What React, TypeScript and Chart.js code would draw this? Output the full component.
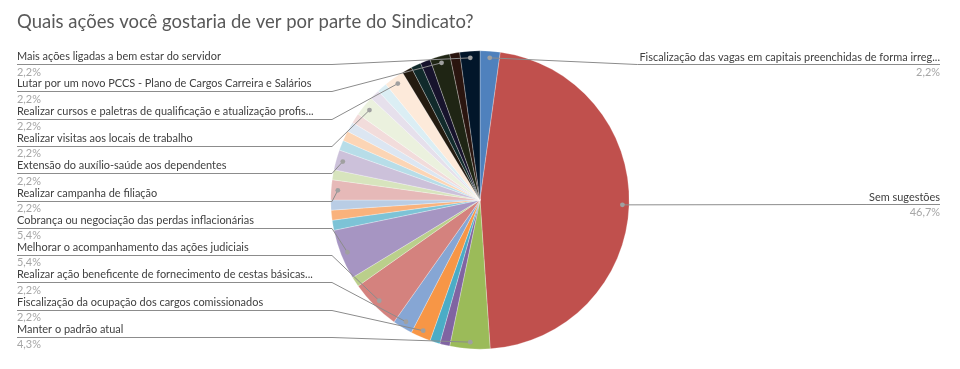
import React, { useEffect, useRef } from "react";
import { Chart, registerables } from "chart.js";

Chart.register(...registerables);

const chartTitle = "Quais ações você gostaria de ver por parte do Sindicato?";

const categories: string[] = [
  "Fiscalização das vagas em capitais preenchidas de forma irreg...",
  "Sem sugestões",
  "Manter o padrão atual",
  "",
  "",
  "Fiscalização da ocupação dos cargos comissionados",
  "Realizar ação beneficente de fornecimento de cestas básicas...",
  "Melhorar o acompanhamento das ações judiciais",
  "",
  "Cobrança ou negociação das perdas inflacionárias",
  "",
  "",
  "",
  "Realizar campanha de filiação",
  "",
  "Extensão do auxílio-saúde aos dependentes",
  "",
  "",
  "",
  "",
  "Realizar visitas aos locais de trabalho",
  "",
  "",
  "Realizar cursos e paletras de qualificação e atualização profis...",
  "",
  "",
  "",
  "Lutar por um novo PCCS - Plano de Cargos Carreira e Salários",
  "",
  "Mais ações ligadas a bem estar do servidor",
];

const counts: number[] = [
  2, 43, 4, 1, 1, 2, 2, 5, 1, 5, 1, 1, 1, 2, 1, 2, 1, 1, 1, 1, 2, 1, 1, 2, 1, 1, 1, 2, 1, 2,
];

const sliceColors: string[] = [
  "#4F81BD", "#C0504D", "#9BBB59", "#8064A2", "#4BACC6", "#F79646",
  "#86A6D4", "#D4827E", "#BACF8B", "#A695C2", "#7DC3D6", "#F9B27C",
  "#B9CDE5", "#E6B9B8", "#D7E4BD", "#CCC1DA", "#B7DDE8", "#FCD5B5",
  "#DCE6F2", "#F2DCDB", "#EBF1DE", "#E6E0EC", "#DBEEF4", "#FDEADA",
  "#241B10", "#112A2B", "#17132C", "#1F2514", "#2A150F", "#02162A",
];

const FONT = "Lato, 'Open Sans', sans-serif";

function fitSize(ctx: CanvasRenderingContext2D, text: string, target: number, base: number) {
  ctx.font = `${base}px ${FONT}`;
  const w = ctx.measureText(text).width;
  return (base * target) / w;
}

const labelPlugin = {
  id: "excelLabels",
  afterDraw(chart: any) {
    const ctx: CanvasRenderingContext2D = chart.ctx;
    const meta = chart.getDatasetMeta(0);
    const total = counts.reduce((a, b) => a + b, 0);
    ctx.save();

    // title
    const tSize = fitSize(ctx, chartTitle, 457, 20);
    ctx.font = `${tSize}px ${FONT}`;
    ctx.fillStyle = "#595959";
    ctx.textBaseline = "middle";
    ctx.textAlign = "left";
    ctx.fillText(chartTitle, 17, 22);

    const lSize = fitSize(ctx, categories[27], 295, 12);
    const labelFont = `${lSize}px ${FONT}`;

    type Item = { i: number; px: number; py: number; mid: number };
    const left: Item[] = [];
    const right: Item[] = [];
    categories.forEach((name, i) => {
      if (!name) return;
      const arc = meta.data[i];
      const p = arc.getProps(["x", "y", "startAngle", "endAngle", "outerRadius"], true);
      const mid = (p.startAngle + p.endAngle) / 2;
      const r = p.outerRadius * 0.955;
      const item = { i, px: p.x + Math.cos(mid) * r, py: p.y + Math.sin(mid) * r, mid };
      const deg = ((mid + Math.PI / 2) * 180) / Math.PI;
      if (deg > 180) left.push(item);
      else right.push(item);
    });
    left.sort((a, b) => b.mid - a.mid);

    const pct = (i: number) => ((counts[i] / total) * 100).toFixed(1).replace(".", ",") + "%";

    ctx.lineWidth = 1;
    ctx.strokeStyle = "#8C8C8C";

    const rowTop = 56.7;
    const rowStep = 27.26;
    left.forEach((it, j) => {
      const ty = rowTop + j * rowStep;
      const uy = Math.round(ty + 7.5) + 0.5;
      ctx.beginPath();
      ctx.moveTo(17, uy);
      ctx.lineTo(332, uy);
      ctx.lineTo(it.px, it.py);
      ctx.stroke();
      ctx.font = labelFont;
      ctx.textAlign = "left";
      ctx.fillStyle = "#404040";
      ctx.fillText(categories[it.i], 17, ty);
      ctx.fillStyle = "#A6A6A6";
      ctx.fillText(pct(it.i), 17, ty + 15.3);
    });

    right.forEach((it) => {
      const uy = Math.round(Math.max(rowTop + 7.5, it.py - 1)) + 0.5;
      const ty = uy - 7.5;
      ctx.font = labelFont;
      const tw = ctx.measureText(categories[it.i]).width;
      ctx.beginPath();
      ctx.moveTo(it.px, it.py);
      ctx.lineTo(940 - tw - 2, uy);
      ctx.lineTo(940, uy);
      ctx.stroke();
      ctx.textAlign = "right";
      ctx.fillStyle = "#404040";
      ctx.fillText(categories[it.i], 940, ty);
      ctx.fillStyle = "#A6A6A6";
      ctx.fillText(pct(it.i), 940, ty + 15.3);
    });

    ctx.fillStyle = "#A0A0A0";
    [...left, ...right].forEach((it) => {
      ctx.beginPath();
      ctx.arc(it.px, it.py, 2.4, 0, Math.PI * 2);
      ctx.fill();
    });
    ctx.restore();
  },
};

export default function App() {
  const ref = useRef<HTMLCanvasElement | null>(null);
  useEffect(() => {
    if (!ref.current) return;
    const chart = new Chart(ref.current, {
      type: "pie",
      data: {
        labels: categories,
        datasets: [
          {
            data: counts,
            backgroundColor: sliceColors,
            borderColor: "rgba(255,255,255,0.45)",
            borderWidth: 0.6,
          },
        ],
      },
      options: {
        animation: false,
        responsive: true,
        maintainAspectRatio: false,
        layout: { padding: { top: 50.5, bottom: 19.5, left: 0, right: 0 } },
        plugins: {
          legend: { display: false },
          tooltip: { enabled: false },
          title: { display: false },
        },
      },
      plugins: [labelPlugin],
    });
    return () => chart.destroy();
  }, []);
  return (
    <div style={{ position: "fixed", left: 0, top: 0, width: 960, height: 369, background: "#fff" }}>
      <canvas ref={ref} />
    </div>
  );
}
